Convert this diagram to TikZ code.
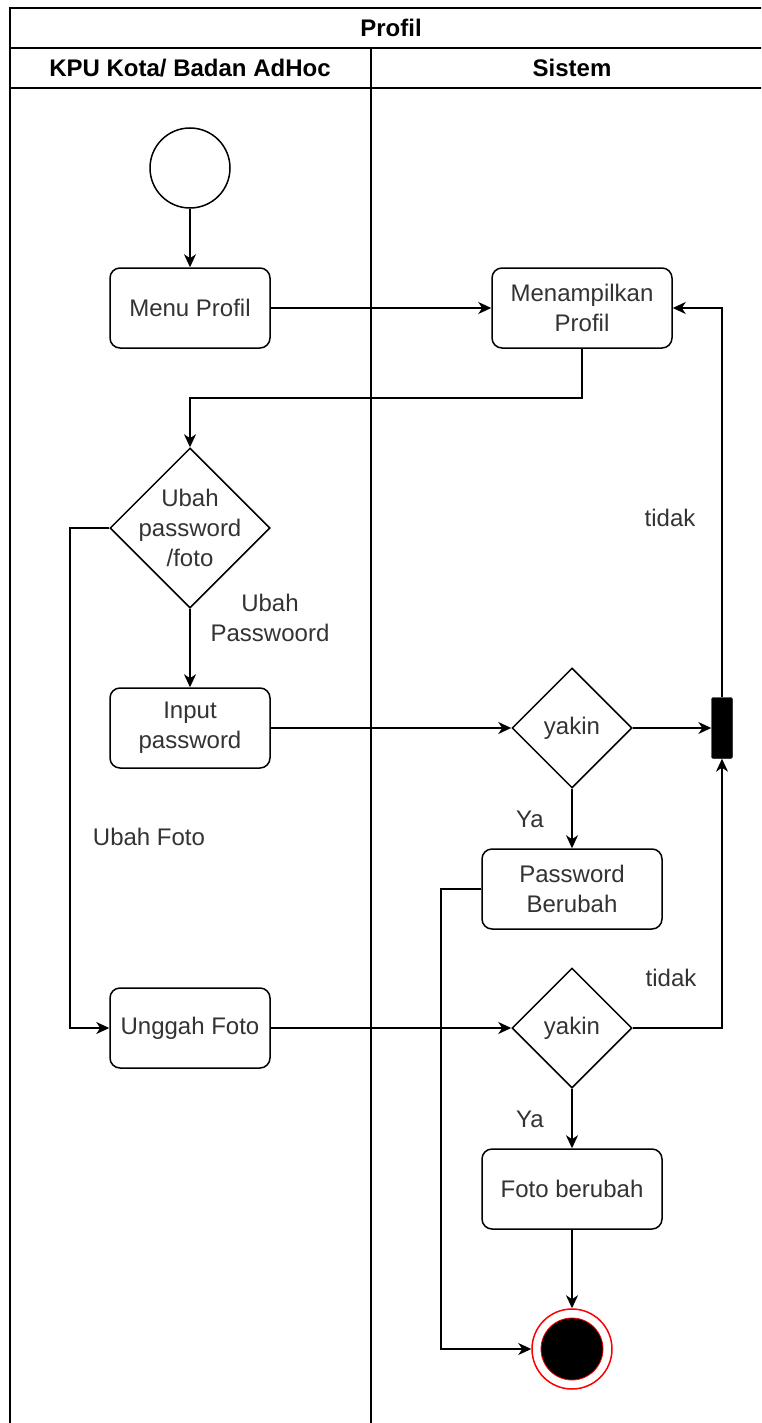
\documentclass[tikz,border=0pt]{standalone}
\usepackage{fontspec}
\setmainfont{Liberation Sans}
\usetikzlibrary{shapes.geometric}
\usetikzlibrary{arrows.meta}
\definecolor{teks}{RGB}{51,51,51}
\tikzset{garis/.style={line width=1.5pt,black}}
\tikzset{alur/.style={garis,-{Stealth[length=13pt,width=12pt,inset=4pt]}}}
\tikzset{aksi/.style={garis,draw,rectangle,rounded corners=10pt,fill=white,
    minimum width=160pt,minimum height=80pt,inner sep=0pt,align=center,text=teks}}
\tikzset{pilihan/.style={garis,draw,diamond,fill=white,inner sep=0pt,
    minimum width=#1,minimum height=#1,align=center,text=teks}}
\tikzset{ket/.style={text=teks,align=center,inner sep=0pt}}

\begin{document}
\begin{tikzpicture}[x=1pt,y=-1pt,font=\fontsize{24}{30}\selectfont]
                \clip (0,0) rectangle (761,1423);
                \fill[white] (0,0) rectangle (761,1423);

                % Swimlanes
                \draw[garis] (10,8) rectangle (775,1440);
                \draw[garis] (10,48) -- (775,48);
                \draw[garis] (10,88) -- (775,88);
                \draw[garis] (371,48) -- (371,1440);
                \node[font=\fontsize{24}{30}\selectfont\bfseries] (judul) at (391,28) {Profil};
                \node[font=\fontsize{24}{30}\selectfont\bfseries] (lane1) at (190,68) {KPU Kota/ Badan AdHoc};
                \node[font=\fontsize{24}{30}\selectfont\bfseries] (lane2) at (572,68) {Sistem};

                % Nodes
                \node[garis,draw,circle,fill=white,minimum size=80pt,inner sep=0pt] (awal) at (190,168) {};
                \node[aksi] (menu) at (190,308) {Menu Profil};
                \node[aksi,minimum width=180pt] (tampil) at (582,308) {Menampilkan\\Profil};
                \node[pilihan=160pt,label={[ket]center:Ubah\\password\\/foto}] (pilih) at (190,528) {};
                \node[aksi] (inputpw) at (190,728) {Input\\password};
                \node[pilihan=120pt] (yakinpw) at (572,728) {yakin};
                \node[draw,fill=black,rectangle,rounded corners=2pt,minimum width=21pt,minimum height=61pt,inner sep=0pt] (gabung) at (722,728) {};
                \node[aksi,minimum width=180pt] (pwubah) at (572,889) {Password\\Berubah};
                \node[aksi] (unggah) at (190,1028) {Unggah Foto};
                \node[pilihan=120pt] (yakinft) at (572,1028) {yakin};
                \node[aksi,minimum width=180pt] (ftubah) at (572,1189) {Foto berubah};
                \node[circle,draw=red,line width=1.5pt,fill=white,minimum size=80pt,inner sep=0pt,
                    path picture={\fill[black,draw=red,line width=0.8pt] (path picture bounding box.center) circle (31pt);}] (akhir) at (572,1349) {};

                % Bends
                \coordinate (belok) at (190,398);
                \coordinate (kiri) at (70,800);
                \coordinate (kiri2) at (441,1100);

                % Flow
                \draw[alur] (awal) -- (menu);
                \draw[alur] (menu) -- (tampil);
                \draw[alur] (tampil.south) |- (belok) -- (pilih.north);
                \draw[alur] (pilih.south) -- (inputpw.north);
                \draw[alur] (pilih.west) -| (kiri) |- (unggah.west);
                \draw[alur] (inputpw) -- (yakinpw);
                \draw[alur] (yakinpw) -- (gabung);
                \draw[alur] (gabung.north) |- (tampil.east);
                \draw[alur] (yakinpw.south) -- (pwubah.north);
                \draw[alur] (pwubah.west) -| (kiri2) |- (akhir.west);
                \draw[alur] (unggah) -- (yakinft);
                \draw[alur] (yakinft.east) -| (gabung.south);
                \draw[alur] (yakinft.south) -- (ftubah.north);
                \draw[alur] (ftubah.south) -- (akhir.north);

                % Labels
                \node[ket] (lblpw) at (270,618) {Ubah\\Passwoord};
                \node[ket] (lblft) at (149,837) {Ubah Foto};
                \node[ket] (tidak1) at (670,518) {tidak};
                \node[ket] (tidak2) at (671,978) {tidak};
                \node[ket] (ya1) at (530,819) {Ya};
                \node[ket] (ya2) at (530,1119) {Ya};
\end{tikzpicture}
\end{document}
